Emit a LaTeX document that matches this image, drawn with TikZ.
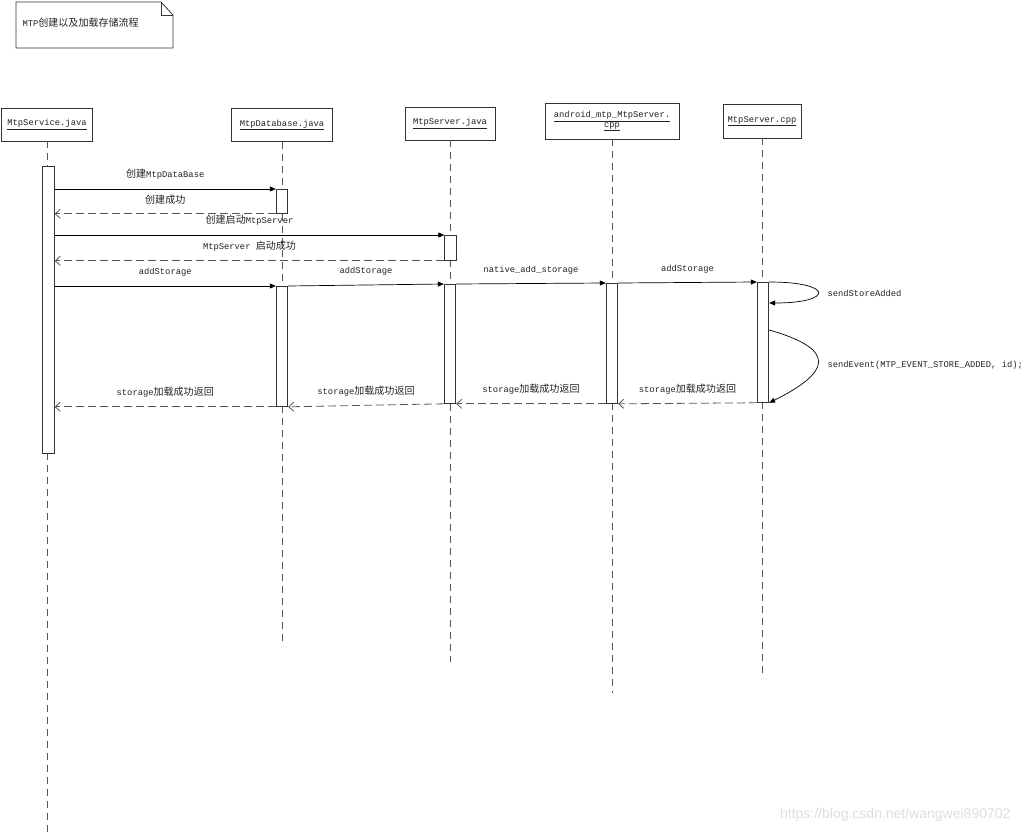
\documentclass[tikz,border=0pt]{standalone}
\usepackage{fontspec}
\setmainfont{Liberation Mono}
\newfontfamily\cjk[Scale=1.14]{Noto Sans CJK SC}
\newfontfamily\wmfont{Liberation Sans}
\usetikzlibrary{arrows.meta}
\definecolor{lineclr}{HTML}{333333}
\definecolor{lifeclr}{HTML}{555555}
\definecolor{txtclr}{HTML}{222222}
\definecolor{wmark}{HTML}{DDDDDD}
\newcommand{\zh}[1]{{\cjk #1}}

\begin{document}
\begin{tikzpicture}[x=1pt,y=-1pt,
  every node/.style={font=\fontsize{8.8}{10.5}\selectfont, text=txtclr},
  head/.style={draw=lineclr, line width=0.8pt, minimum height=33pt, inner sep=2pt, align=center},
  bar/.style={draw=lineclr, line width=0.8pt, fill=white, minimum width=11.5pt, anchor=north, inner sep=0pt},
  life/.style={lifeclr, line width=0.8pt, dash pattern=on 7pt off 5pt},
  call/.style={black, line width=0.7pt, -{Triangle[length=6pt,width=5pt]}},
  ret/.style={lifeclr, line width=0.8pt, dash pattern=on 8pt off 4pt, -{Straight Barb[length=5pt,width=9pt]}},
  lbl/.style={midway, above=9pt, inner sep=0pt}]
\useasboundingbox (0,0) rectangle (1023,832);

% note
\draw[lineclr, line width=0.8pt] (16,2) -- (161,2) -- (173,15) -- (173,48) -- (16,48) -- cycle;
\draw[lineclr, line width=0.8pt] (161,2) -- (161,15) -- (173,15);
\node[anchor=west] (title) at (19,23) {MTP\zh{创建以及加载存储流程}};

% heads
\node[head, minimum width=91pt] (svc) at (47,124.5) {\underline{MtpService.java}};
\node[head, minimum width=101pt] (db) at (282,125) {\underline{MtpDatabase.java}};
\node[head, minimum width=90pt] (sj) at (450,123.5) {\underline{MtpServer.java}};
\node[head, minimum width=134pt, minimum height=36pt] (jni) at (612,121) {\underline{android\_mtp\_MtpServer.}\\[-1pt]\underline{cpp}};
\node[head, minimum width=78pt, minimum height=34pt] (cpp) at (762,121) {\underline{MtpServer.cpp}};

% lifelines
\draw[life] (svc.south) -- ++(0,691);
\draw[life] (db.south) -- ++(0,500);
\draw[life] (sj.south) -- ++(0,522);
\draw[life] (jni.south) -- ++(0,554);
\draw[life] (cpp.south) -- ++(0,538);

% activations
\node[bar, minimum height=287pt] (svcb) at (48.5,166) {};
\node[bar, minimum height=24pt] (dbb1) at (282,189) {};
\node[bar, minimum height=25pt] (sjb1) at (450.5,235) {};
\node[bar, minimum height=120pt] (dbb2) at (282,286) {};
\node[bar, minimum height=119pt] (sjb2) at (450,284) {};
\node[bar, minimum height=120pt] (jnib) at (612,283) {};
\node[bar, minimum height=120pt] (cppb) at (763,282) {};

% messages
\draw[call] (svcb.east |- dbb1.north) -- (dbb1.north west) node[lbl] {\zh{创建}MtpDataBase};
\draw[ret] (dbb1.south west) -- (svcb.east |- dbb1.south) node[lbl] {\zh{创建成功}};
\draw[call] (svcb.east |- sjb1.north) -- (sjb1.north west) node[lbl] {\zh{创建启动}MtpServer};
\draw[ret] (sjb1.south west) -- (svcb.east |- sjb1.south) node[lbl] {MtpServer \zh{启动成功}};
\draw[call] (svcb.east |- dbb2.north) -- (dbb2.north west) node[lbl] {addStorage};
\draw[call] (dbb2.north east) -- (sjb2.north west) node[lbl] {addStorage};
\draw[call] (sjb2.north east) -- (jnib.north west) node[lbl] {native\_add\_storage};
\draw[call] (jnib.north east) -- (cppb.north west) node[lbl] {addStorage};
\draw[call] (cppb.north east) .. controls +(65,0) and +(65,0) .. ([yshift=-21pt]cppb.north east);
\node[anchor=west] (sadd) at (824,293) {sendStoreAdded};
\draw[call] ([yshift=-48pt]cppb.north east) .. controls +(70,20) and +(60,-30) .. (cppb.south east);
\node[anchor=west] (sevt) at (824,365) {sendEvent(MTP\_EVENT\_STORE\_ADDED, id);};
\draw[ret] (cppb.south west) -- (jnib.south east) node[lbl] {storage\zh{加载成功返回}};
\draw[ret] (jnib.south west) -- (sjb2.south east) node[lbl] {storage\zh{加载成功返回}};
\draw[ret] (sjb2.south west) -- (dbb2.south east) node[lbl] {storage\zh{加载成功返回}};
\draw[ret] (dbb2.south west) -- (svcb.east |- dbb2.south) node[lbl] {storage\zh{加载成功返回}};

\node[anchor=east, text=wmark, font=\wmfont\fontsize{14}{16}\selectfont] (wm) at (1014,815) {https://blog.csdn.net/wangwei890702};
\end{tikzpicture}
\end{document}
